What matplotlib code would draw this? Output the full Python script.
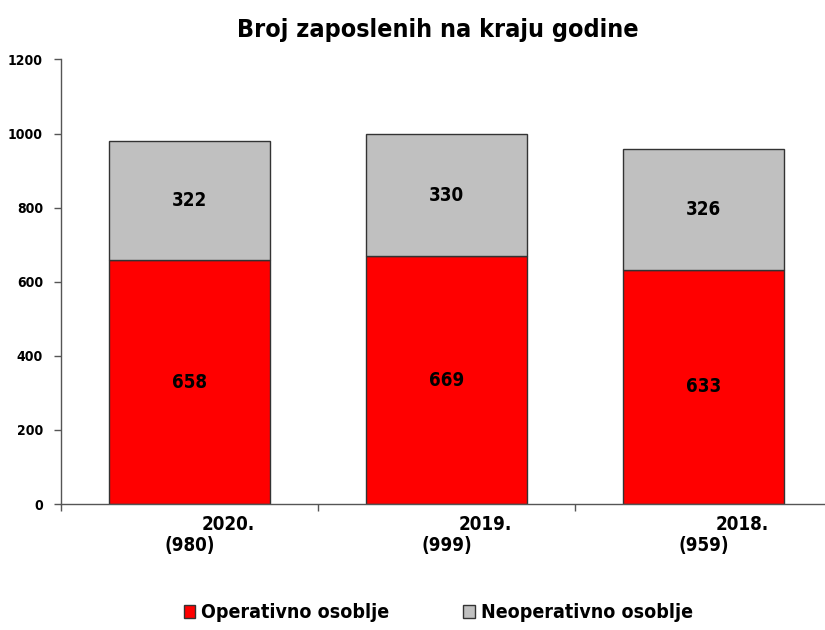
import matplotlib
matplotlib.use("Agg")
import matplotlib.pyplot as plt
import numpy as np

years = ["2020.", "2019.", "2018."]
totals = ["(980)", "(999)", "(959)"]
operativno = [658, 669, 633]
neoperativno = [322, 330, 326]
yticks = [0, 200, 400, 600, 800, 1000, 1200]

# narrow bold look (reference uses Arial Narrow)
plt.rcParams["font.family"] = ["DejaVu Sans"]
plt.rcParams["font.stretch"] = "condensed"
plt.rcParams["font.weight"] = "bold"

fig = plt.figure(figsize=(8.25, 6.3), dpi=100)
ax = fig.add_axes([0.0739, 0.2, 0.9346, 0.7056])

x = np.arange(len(years))
b1 = ax.bar(x, operativno, width=0.626, color="#ff0000", edgecolor="#333333", lw=1)
b2 = ax.bar(x, neoperativno, width=0.626, bottom=operativno, color="#c0c0c0",
            edgecolor="#333333", lw=1)

for i in range(len(years)):
    ax.text(x[i], operativno[i] / 2, str(operativno[i]), ha="center", va="center",
            fontsize=13.5, fontweight="bold")
    ax.text(x[i], operativno[i] + neoperativno[i] / 2, str(neoperativno[i]),
            ha="center", va="center", fontsize=13.5, fontweight="bold")

ax.set_xlim(-0.5, 2.5)
ax.set_ylim(0, 1200)
ax.set_yticks(yticks)
ax.set_yticklabels([str(t) for t in yticks], fontsize=10, fontweight="bold")
ax.set_xticks([-0.5, 0.5, 1.5, 2.5])
ax.set_xticklabels([])
ax.tick_params(axis="both", direction="out", length=5, color="#555555", width=1)
ax.tick_params(axis="y", pad=8)

# two-line category labels, year shifted right as in the original
for i in range(len(years)):
    ax.text(x[i] + 0.15, -55, years[i], ha="center", va="center", fontsize=13.5,
            fontweight="bold", clip_on=False)
    ax.text(x[i], -113, totals[i], ha="center", va="center", fontsize=13.5,
            fontweight="bold", clip_on=False)

for s in ["top", "right"]:
    ax.spines[s].set_visible(False)
for s in ["left", "bottom"]:
    ax.spines[s].set_color("#555555")
    ax.spines[s].set_linewidth(1)

fig.text(0.531, 0.952, "Broj zaposlenih na kraju godine", ha="center", va="center",
         fontsize=18, fontweight="bold")

fig.legend(handles=[b1, b2], labels=["Operativno osoblje", "Neoperativno osoblje"],
           loc="center", bbox_to_anchor=(0.531, 0.027), ncol=2, frameon=False,
           handlelength=0.6, handleheight=0.6, handletextpad=0.3,
           columnspacing=3.8, prop={"weight": "bold", "size": 14, "stretch": "condensed"})

fig.savefig("out.png", dpi=100)
